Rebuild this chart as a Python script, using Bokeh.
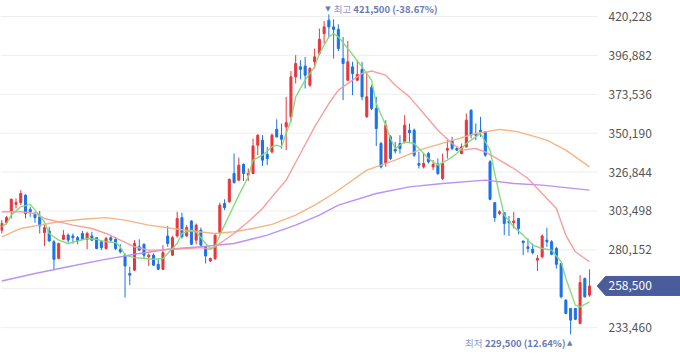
from bokeh.plotting import figure
from bokeh.models import ColumnDataSource, Range1d
from bokeh.core.properties import value
from bokeh.embed import file_html
from bokeh.resources import INLINE

# ---------------- data ----------------
opens = [292000, 296500, 303500, 307500, 308500, 313000, 304500, 301500, 300000, 290500,
         291500, 285000, 275000, 286500, 289000, 288500, 287500, 290000, 286500, 288500,
         287500, 285000, 281000, 287500, 286500, 280500, 277000, 266000, 268000, 282000,
         283500, 276000, 277000, 271500, 268500, 288500, 277000, 288500, 299500, 288500,
         297500, 286000, 292000, 282000, 273500, 275000, 290500, 308000, 309000, 326000,
         322000, 331500, 325000, 326000, 343000, 346000, 337500, 339000, 352500, 349000,
         354000, 360000, 384000, 390000, 390500, 379000, 393000, 398000, 410000, 418000,
         414000, 412500, 395000, 382000, 390000, 382000, 388500, 360000, 377500, 365000,
         344000, 332000, 348000, 340500, 344000, 345000, 352000, 352000, 332000, 330000,
         338000, 330000, 331500, 323000, 340000, 345500, 341000, 338000, 342000, 364000,
         350000, 352000, 351000, 333000, 308500, 302000, 302500, 297500, 296500, 299000,
         285500, 282000, 280500, 274000, 276000, 286000, 285000, 281000, 272000, 250000,
         245000, 245000, 236000, 263000, 253000]
highs = [298000, 300500, 311000, 311000, 316000, 313500, 306000, 303000, 303500, 295000,
         294000, 286000, 284500, 292000, 290000, 290000, 288500, 291500, 291000, 291000,
         287500, 285500, 288000, 288500, 288000, 283500, 278000, 270000, 286000, 286500,
         284000, 278000, 278000, 274500, 283000, 294500, 288500, 303000, 302500, 295000,
         298000, 296000, 293500, 282000, 275500, 289500, 308500, 310500, 323000, 338000,
         335500, 332000, 329000, 347000, 349500, 349000, 342000, 350000, 358500, 356000,
         372000, 387500, 397000, 394000, 396000, 390000, 401000, 413000, 417500, 421500,
         418500, 415500, 408000, 405500, 393000, 394000, 393000, 386000, 379000, 372000,
         345000, 358000, 349000, 345000, 349000, 361000, 356000, 353000, 339000, 338000,
         339000, 334000, 335000, 338000, 346000, 348000, 342000, 344000, 362000, 364500,
         356000, 360000, 351500, 334000, 308500, 304000, 302500, 300500, 303000, 299000,
         285500, 287000, 284000, 277000, 289500, 293500, 286000, 282000, 272000, 250500,
         245000, 245000, 265000, 263500, 268500]
lows = [290000, 295500, 299000, 305000, 307000, 299000, 300000, 296500, 290000, 282500,
        285000, 268000, 274500, 286000, 284500, 284000, 283500, 286000, 280500, 285500,
        280500, 280000, 280500, 285000, 280000, 278000, 251500, 259000, 267500, 279500,
        275000, 270500, 270500, 268000, 268000, 282000, 276500, 287500, 287000, 288000,
        283000, 283500, 282000, 272000, 273000, 274000, 290000, 304000, 308500, 320000,
        321500, 321500, 321500, 325500, 337000, 330500, 331000, 338000, 347500, 341000,
        340000, 357000, 380000, 382500, 377000, 378000, 389000, 397000, 404000, 408000,
        395000, 399500, 370000, 381500, 373000, 381500, 370000, 359500, 364000, 342500,
        329000, 330000, 334000, 338000, 338000, 344000, 345000, 336000, 329000, 329000,
        332000, 328000, 325000, 322000, 335000, 340000, 339500, 337500, 341500, 347000,
        346000, 348000, 336000, 310000, 297000, 301000, 289000, 288500, 293000, 289500,
        277000, 278500, 277500, 267500, 275000, 282000, 277000, 269000, 251000, 241500,
        229500, 238000, 235500, 251500, 252000]
closes = [296000, 299500, 310500, 308500, 314000, 302000, 303000, 299500, 294500, 293500,
          285500, 274500, 284000, 289000, 286000, 287500, 285500, 286500, 290000, 286000,
          281000, 281500, 287000, 286000, 281000, 279000, 270500, 265000, 284000, 280000,
          277000, 277000, 271000, 268500, 278500, 284000, 287500, 299000, 288000, 293500,
          283500, 295000, 283000, 276500, 275000, 289000, 307000, 305500, 322500, 320500,
          331000, 326000, 326000, 342500, 349000, 334000, 335000, 349000, 348000, 346500,
          356500, 384000, 392000, 388500, 385000, 389000, 396000, 406500, 414000, 414000,
          412500, 401000, 392000, 393000, 386000, 385500, 372000, 372000, 365000, 353000,
          330000, 355000, 335000, 339500, 341000, 355000, 350500, 337000, 331000, 332000,
          333000, 331500, 326000, 332000, 341000, 341000, 340000, 342000, 358000, 349000,
          349000, 351000, 337000, 310500, 299500, 303000, 296000, 296500, 297500, 293000,
          284500, 281000, 278500, 275000, 288500, 285000, 277500, 271500, 252000, 242000,
          238000, 238500, 260500, 252000, 258500]

ma5_idx = [0, 1, 2, 4, 6, 7, 9, 10, 12, 14, 16, 18, 20, 22, 24, 25, 26, 28, 30, 32,
           34, 35, 37, 38, 40, 41, 43, 44, 45, 46, 48, 50, 52, 53, 55, 57, 58, 59, 61, 62,
           64, 66, 67, 69, 70, 71, 73, 76, 78, 79, 81, 82, 83, 85, 87, 88, 90, 92, 94, 96,
           98, 100, 101, 103, 104, 105, 106, 108, 110, 112, 114, 116, 118, 119, 121, 122, 124]
ma5_val = [294000, 296000, 301000, 306000, 307500, 304000, 297000, 290000, 286000, 284000,
           285500, 287000, 286500, 285000, 284500, 282000, 277000, 275500, 275000, 274500,
           275000, 278000, 284000, 290000, 292000, 291000, 284000, 281000, 282000, 289000,
           301000, 313000, 324000, 334000, 337000, 342000, 343000, 342000, 358000, 372000,
           382000, 390000, 398000, 408000, 410000, 408000, 401000, 390000, 382000, 368000,
           355000, 347000, 341000, 345000, 344000, 341000, 335000, 331000, 334000, 338000,
           344000, 348000, 350000, 340000, 326000, 313000, 301000, 294000, 289000, 283000,
           281000, 280000, 273000, 263000, 247000, 246000, 249000]
ma20_idx = [0, 4, 7, 9, 12, 15, 19, 22, 25, 28, 31, 33, 36, 39, 42, 44, 46, 49, 52, 55,
            57, 60, 63, 66, 69, 71, 74, 76, 78, 81, 83, 86, 89, 92, 95, 97, 100, 102, 105, 108,
            111, 114, 117, 119, 121, 124]
ma20_val = [303000, 303000, 302000, 299000, 297000, 295000, 293000, 290000, 286000, 282000,
            280000, 280000, 280500, 281000, 281500, 280500, 284000, 290000, 297000, 305000,
            312000, 322000, 338000, 354000, 368000, 376000, 382000, 386000, 387500, 385000,
            379000, 372000, 362000, 352000, 344000, 340000, 341000, 339000, 334000, 329000,
            323000, 314000, 305000, 289000, 279000, 273000]
ma60_idx = [0, 4, 8, 12, 17, 22, 26, 31, 36, 40, 45, 49, 53, 57, 62, 66, 70, 77, 83, 88,
            94, 100, 105, 109, 115, 119, 124]
ma60_val = [288000, 293000, 295000, 297000, 298500, 299500, 298000, 295000, 293000, 291500,
            290000, 291000, 293000, 295500, 301000, 307000, 314000, 328000, 334000, 340000,
            345000, 350000, 352500, 351000, 346000, 340000, 330000]
ma120_idx = [0, 7, 14, 21, 28, 35, 42, 49, 56, 62, 67, 71, 79, 86, 93, 102, 108, 114, 124]
ma120_val = [261500, 266000, 270000, 274000, 277500, 280500, 282000, 284000, 289000, 295000,
             301000, 307000, 314000, 318000, 320000, 322000, 320000, 319000, 316000]

tick_values = [233460, 256806, 280152, 303498, 326844, 350190, 373536, 396882, 420228]
hidden_ticks = [256806]          # its label sits under the last-price tag
high_word = "최고"
low_word = "최저"

# ---------------- styling / layout ----------------
UP = "#e8363d"
DOWN = "#1a73e8"
FONT = "Noto Sans CJK KR"
ANN_WORD = "#8c99c9"
ANN_NUM = "#6a7ab4"
TAG = "#4a5d9a"

W, H = 680, 358
PX_PER_BAR = 4.74                 # horizontal pixels per candle
X_START = -1.3 / PX_PER_BAR       # left edge of the plot in candle units
PRICE_PER_PX = 600.2
Y_TOP = 420228 + 16 * PRICE_PER_PX
Y_BOTTOM = Y_TOP - H * PRICE_PER_PX


def xpx(px):
    """x position (candle units) of a horizontal pixel position"""
    return X_START + px / PX_PER_BAR


n = len(opens)
xs = list(range(n))
colors = [UP if c >= o else DOWN for o, c in zip(opens, closes)]
src = ColumnDataSource(dict(
    x=xs, o=opens, h=highs, l=lows, c=closes,
    top=[max(o, c) for o, c in zip(opens, closes)],
    bottom=[min(o, c) for o, c in zip(opens, closes)],
    color=colors,
))

p = figure(width=W, height=H,
           x_range=Range1d(X_START, xpx(W)), y_range=Range1d(Y_BOTTOM, Y_TOP),
           x_axis_location=None, y_axis_location=None,
           output_backend="svg", toolbar_location=None,
           min_border=0, min_border_left=0, min_border_right=0,
           min_border_top=0, min_border_bottom=0,
           outline_line_color=None, background_fill_color="white", border_fill_color="white")
p.grid.visible = False

# horizontal grid lines at the price ticks (end where the price scale starts)
grid_end = xpx(597)
p.segment(x0=[X_START] * len(tick_values), x1=[grid_end] * len(tick_values),
          y0=tick_values, y1=tick_values, line_color="#eeeeee", line_width=1)

# price scale labels
shown = [t for t in tick_values if t not in hidden_ticks]
p.text(x=[xpx(608)] * len(shown), y=shown, text=[f"{t:,}" for t in shown],
       text_font=value(FONT), text_font_size="12px", text_color="#555555",
       text_align="left", text_baseline="middle")

# candles
p.segment(x0="x", y0="l", x1="x", y1="h", line_color="color", line_width=1, source=src)
p.vbar(x="x", width=0.43, top="top", bottom="bottom", fill_color="color",
       line_color="color", line_width=1, source=src)

# moving averages
p.line(ma120_idx, ma120_val, line_color="#b98af2", line_width=1.4, line_alpha=0.95)
p.line(ma60_idx, ma60_val, line_color="#f6b07c", line_width=1.4, line_alpha=0.95)
p.line(ma20_idx, ma20_val, line_color="#f79a9a", line_width=1.4, line_alpha=0.95)
p.line(ma5_idx, ma5_val, line_color="#80d97a", line_width=1.4, line_alpha=0.95)

# high / low annotations
hi_i = highs.index(max(highs))
lo_i = lows.index(min(lows))
last = closes[-1]
hi_pct = (last / highs[hi_i] - 1) * 100
lo_pct = (last / lows[lo_i] - 1) * 100

p.text(x=[hi_i], y=[highs[hi_i]], text=["▼"], text_font=value("DejaVu Sans"),
       text_font_size="7px", text_color=ANN_NUM, text_align="center",
       text_baseline="middle", x_offset=-1, y_offset=-5)
p.text(x=[hi_i], y=[highs[hi_i]], text=[high_word], text_font=value(FONT),
       text_font_size="9.5px", text_color=ANN_WORD, text_align="left",
       text_baseline="middle", x_offset=5, y_offset=-5)
p.text(x=[hi_i], y=[highs[hi_i]], text=[f"{highs[hi_i]:,} ({hi_pct:.2f}%)"],
       text_font=value(FONT), text_font_size="9.5px", text_font_style="bold",
       text_color=ANN_NUM, text_align="left", text_baseline="middle",
       x_offset=24.5, y_offset=-5)

p.text(x=[lo_i], y=[lows[lo_i]], text=["▲"], text_font=value("DejaVu Sans"),
       text_font_size="7px", text_color=ANN_NUM, text_align="center",
       text_baseline="middle", x_offset=-1, y_offset=8.5)
p.text(x=[lo_i], y=[lows[lo_i]], text=[f"{lows[lo_i]:,} ({lo_pct:.2f}%)"],
       text_font=value(FONT), text_font_size="9.5px", text_font_style="bold",
       text_color=ANN_NUM, text_align="right", text_baseline="middle",
       x_offset=-5, y_offset=8.5)
p.text(x=[lo_i], y=[lows[lo_i]], text=[low_word], text_font=value(FONT),
       text_font_size="9.5px", text_color=ANN_WORD, text_align="right",
       text_baseline="middle", x_offset=-88, y_offset=8.5)

# last price tag on the price scale
half_h = 9.5 * PRICE_PER_PX
p.patch(x=[xpx(596.7), xpx(605), xpx(W + 1), xpx(W + 1), xpx(605)],
        y=[last, last + half_h, last + half_h, last - half_h, last - half_h],
        fill_color=TAG, line_color=TAG)
p.text(x=[xpx(608)], y=[last], text=[f"{last:,}"], text_font=value(FONT),
       text_font_size="12px", text_color="white", text_align="left",
       text_baseline="middle")

open("out.html", "w").write(file_html(p, INLINE))
